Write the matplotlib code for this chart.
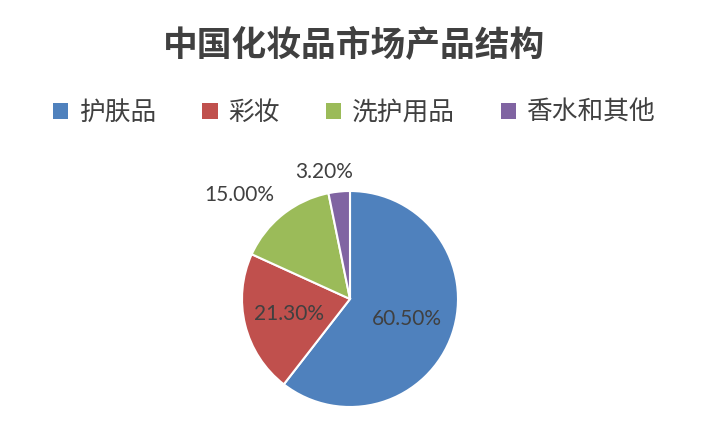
import matplotlib
matplotlib.use('Agg')
import numpy as np
import matplotlib.pyplot as plt
from matplotlib.patches import Patch

title = '中国化妆品市场产品结构'
categories = ['护肤品', '彩妆', '洗护用品', '香水和其他']
values = [60.5, 21.3, 15.0, 3.2]
colors = ['#4F81BD', '#C0504D', '#9BBB59', '#8064A2']

plt.rcParams['font.family'] = ['Noto Sans CJK SC', 'DejaVu Sans']
text_color = '#404040'

fig = plt.figure(figsize=(7.08, 4.34), dpi=100)
fig.patch.set_facecolor('white')

# pie: centre (350, 299) px, radius 108 px
W, H = 708, 434
cx, cy, r = 350, 299, 108
ax = fig.add_axes([(cx - r) / W, (H - cy - r) / H, 2 * r / W, 2 * r / H])

wedges, _ = ax.pie(values, colors=colors, startangle=90, counterclock=False,
                   wedgeprops=dict(edgecolor='white', linewidth=1.5))
ax.set_xlim(-1, 1)
ax.set_ylim(-1, 1)
ax.axis('off')

# label distances (inside for big slices, outside for small)
dist = [0.56, 0.58, 1.23, 1.18]
shift = [0, 0, -0.255, -0.12]
for w, v, d, s in zip(wedges, values, dist, shift):
    ang = np.deg2rad((w.theta1 + w.theta2) / 2)
    x = d * np.cos(ang) + s
    y = d * np.sin(ang)
    ax.text(x, y, '%.2f%%' % v, ha='center', va='center', fontsize=15,
            family=['Lato', 'DejaVu Sans'], color=text_color, clip_on=False)

fig.text(0.5, 1 - 45 / H, title, ha='center', va='center', fontsize=25,
         fontweight='bold', color=text_color)

handles = [Patch(facecolor=c, edgecolor='none') for c in colors]
leg = fig.legend(handles, categories, loc='center', bbox_to_anchor=(0.5, 1 - 113 / H),
                 ncol=4, frameon=False, fontsize=18.5, handlelength=0.6, handleheight=0.6,
                 handletextpad=0.4, columnspacing=1.8, labelcolor=text_color)

fig.savefig('out.png', dpi=100)
